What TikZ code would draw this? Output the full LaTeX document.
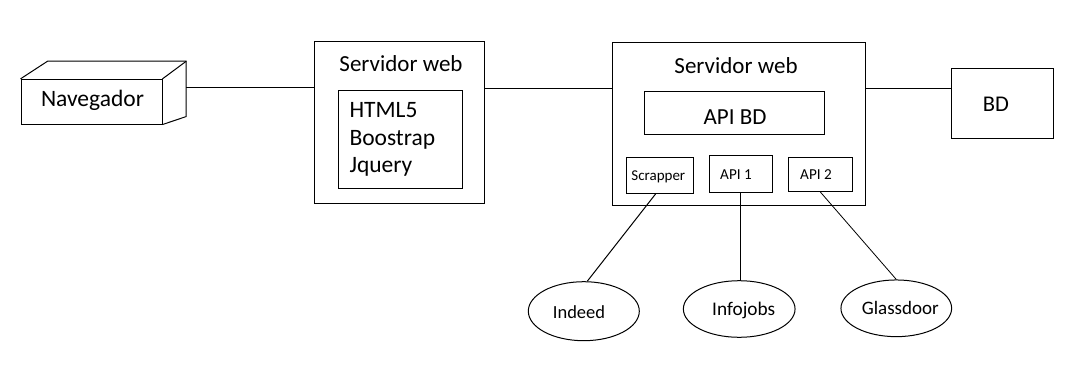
\documentclass[tikz,border=0pt]{standalone}
\usepackage{fontspec}
\setmainfont{Carlito}
\usetikzlibrary{calc,shapes.geometric}
\begin{document}
\begin{tikzpicture}[x=1pt,y=-1pt,
  box/.style={draw,line width=1pt,inner sep=0pt,minimum width=#1},
  oval/.style={draw,ellipse,line width=1pt,inner sep=0pt},
  txt/.style={anchor=base,inner sep=0pt},
  wire/.style={line width=1pt}]
\useasboundingbox[fill=white] (0,0) rectangle (1067,382);

% browser drawn as a 3D block
\node[box=141pt,minimum height=44.7pt] (nav) at (91.5,101.7) {};
\coordinate (navTL) at ($(nav.north west)+(27,-17.6)$);
\coordinate (navTR) at ($(nav.north east)+(23.7,-17.6)$);
\coordinate (navBR) at ($(nav.south east)+(23.7,-8)$);
\draw[wire] (nav.north west) -- (navTL) -- (navTR) -- (navBR) -- (nav.south east);
\draw[wire] (nav.north east) -- (navTR);
\node[txt,font=\fontsize{23.5}{26}\selectfont] (navt) at (92.5,106.7) {Navegador};

% front-end web server
\node[box=170pt,minimum height=161.6pt] (srv1) at (399.3,122.5) {};
\node[txt,font=\fontsize{23}{26}\selectfont] (srv1t) at (401,71.7) {Servidor web};
\node[box=123.6pt,minimum height=97.3pt] (front) at (400.5,139.35) {};
\node[txt,anchor=base west,font=\fontsize{23.5}{26}\selectfont] (f1) at (349.3,117.7) {HTML5};
\node[txt,anchor=base west,font=\fontsize{23.5}{26}\selectfont] (f2) at (349.3,145.3) {Boostrap};
\node[txt,anchor=base west,font=\fontsize{23.5}{26}\selectfont] (f3) at (349.3,172.7) {Jquery};

% back-end web server
\node[box=253.4pt,minimum height=162.3pt] (srv2) at (739,123.85) {};
\node[txt,font=\fontsize{23}{26}\selectfont] (srv2t) at (736,73.3) {Servidor web};
\node[box=180pt,minimum height=43pt] (apibd) at (734.3,112.8) {};
\node[txt,font=\fontsize{23}{26}\selectfont] (apibdt) at (735,125) {API BD};
\node[box=66.6pt,minimum height=35.6pt] (scr) at (660,175.5) {};
\node[txt,font=\fontsize{15}{17}\selectfont] (scrt) at (658.3,180.7) {Scrapper};
\node[box=63pt,minimum height=37pt] (api1) at (740.8,173.8) {};
\node[txt,font=\fontsize{15.2}{17}\selectfont] (api1t) at (736,179) {API 1};
\node[box=63.6pt,minimum height=34.4pt] (api2) at (820.5,174.5) {};
\node[txt,font=\fontsize{15.2}{17}\selectfont] (api2t) at (816,179.3) {API 2};

% database
\node[box=102pt,minimum height=70.7pt] (bd) at (1002.3,103.65) {};
\node[txt,font=\fontsize{22.5}{25}\selectfont] (bdt) at (996,111.7) {BD};

% external job sites
\node[oval,minimum width=111pt,minimum height=59pt] (indeed) at (583.8,311.2) {};
\node[txt,font=\fontsize{18.5}{22}\selectfont] (indeedt) at (579,318.5) {Indeed};
\node[oval,minimum width=111.7pt,minimum height=56.6pt] (infojobs) at (739.2,309) {};
\node[txt,font=\fontsize{19.3}{22}\selectfont] (infojobst) at (743.7,315.7) {Infojobs};
\node[oval,minimum width=110.7pt,minimum height=56.7pt] (glass) at (896.3,308.3) {};
\node[txt,font=\fontsize{19}{22}\selectfont] (glasst) at (900.3,314.3) {Glassdoor};

% connector end points on the box edges
\coordinate (navR) at ($(navTR)!0.48!(navBR)$);
\coordinate (s1R) at ($(srv1.north east)+(0,47.6)$);
\coordinate (s2R) at ($(srv2.north east)+(0,46.6)$);

% connectors
\draw[wire] (navR) -- (navR -| srv1.west);
\draw[wire] (s1R) -- (s1R -| srv2.west);
\draw[wire] (s2R) -- (s2R -| bd.west);
\draw[wire] ($(scr.south)+(-4.3,0)$) -- ($(indeed.north)+(3.5,0)$);
\draw[wire] (api1.south) -- (api1.south |- infojobs.north);
\draw[line width=0.8pt] (api2.south) -- (glass.north);
\end{tikzpicture}
\end{document}
